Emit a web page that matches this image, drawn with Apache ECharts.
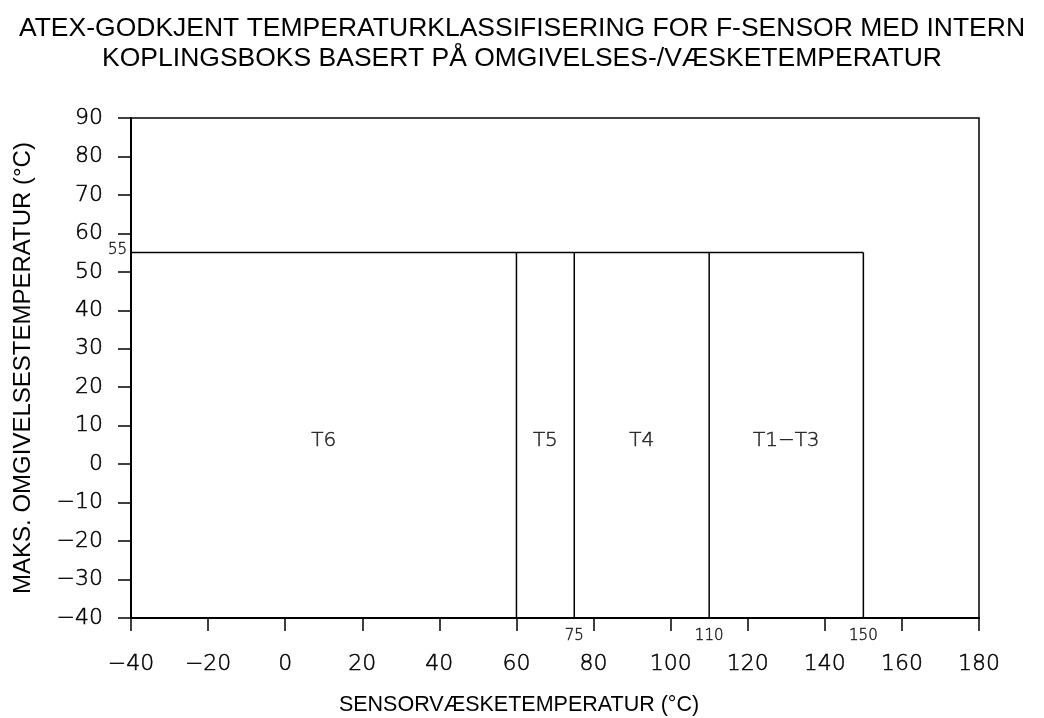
<!DOCTYPE html>
<html><head><meta charset="utf-8">
<script src="https://cdn.jsdelivr.net/npm/echarts@6/dist/echarts.min.js"></script>
<style>html,body{margin:0;padding:0;background:#fff}#c{width:1044px;height:718px}</style>
</head><body><div id="c"></div>
<script>
const titleLines = ['ATEX-GODKJENT TEMPERATURKLASSIFISERING FOR F-SENSOR MED INTERN', 'KOPLINGSBOKS BASERT PÅ OMGIVELSES-/VÆSKETEMPERATUR'];
const xName = 'SENSORVÆSKETEMPERATUR (°C)';
const yName = 'MAKS. OMGIVELSESTEMPERATUR (°C)';
const xRange = [-40, 180];
const yRange = [-40, 90];
const maxAmbient = 55;
const boundaries = [60, 75, 110, 150];
const classNames = ['T6', 'T5', 'T4', 'T1\u2212T3'];
const classLabelY = 6;

const tickFont = 'DejaVu Sans';
const thin = {fontFamily:tickFont, fontWeight:200, color:'#000', textBorderColor:'#000', textBorderWidth:0.5};
const series = [];
series.push({type:'line', data:[[xRange[0], maxAmbient],[boundaries[3], maxAmbient]], symbol:'none', lineStyle:{color:'#000', width:1.5}, animation:false});
boundaries.forEach(b => series.push({type:'line', data:[[b, yRange[0]],[b, maxAmbient]], symbol:'none', lineStyle:{color:'#000', width:1.5}, animation:false}));
const edges = [xRange[0]].concat(boundaries);
series.push({type:'scatter', symbolSize:0, animation:false, silent:true,
  data: classNames.map((n,i)=>({value:[(edges[i]+edges[i+1])/2, classLabelY], name:n})),
  label:Object.assign({show:true, position:'inside', formatter:p=>p.name, fontSize:20}, thin)});
series.push({type:'scatter', symbolSize:0, animation:false, silent:true, clip:false,
  data: boundaries.slice(1).map(b=>({value:[b, yRange[0]], name:String(b)})),
  label:Object.assign({show:true, position:'bottom', distance:11, formatter:p=>p.name, fontSize:15}, thin)});
series.push({type:'scatter', symbolSize:0, animation:false, silent:true, clip:false,
  data: [{value:[xRange[0], maxAmbient], name:String(maxAmbient)}],
  label:Object.assign({show:true, position:'left', distance:4, offset:[0,-3], formatter:p=>p.name, fontSize:15}, thin)});

const fmt = v => String(v).replace('-', '\u2212');
const chart = echarts.init(document.getElementById('c'), null, {renderer:'canvas'});
chart.setOption({
  backgroundColor:'#fff',
  title:{text: titleLines.join('\n'), left:'center', top:9, textStyle:{fontFamily:'Liberation Sans', fontWeight:'normal', fontSize:26.5, lineHeight:30, color:'#000'}},
  grid:{left:131, right:65, top:118, bottom:100, show:true, borderColor:'#000', borderWidth:1.5, outerBoundsMode:'none', containLabel:false},
  xAxis:{type:'value', min:xRange[0], max:xRange[1], interval:20,
    name:xName, nameLocation:'middle', nameGap:76, nameTextStyle:{fontFamily:'Liberation Sans', fontSize:21.5, color:'#000', padding:[0,72,0,0]},
    axisLine:{show:true, onZero:false, lineStyle:{color:'#000', width:2}},
    axisTick:{show:true, inside:false, length:13, lineStyle:{color:'#000', width:1.5}},
    axisLabel:Object.assign({margin:35, fontSize:22, formatter:fmt}, thin),
    splitLine:{show:false}},
  yAxis:{type:'value', min:yRange[0], max:yRange[1], interval:10,
    name:yName, nameLocation:'middle', nameGap:96, nameTextStyle:{fontFamily:'Liberation Sans', fontSize:24, color:'#000'},
    axisLine:{show:true, onZero:false, lineStyle:{color:'#000', width:2}},
    axisTick:{show:true, inside:false, length:13, lineStyle:{color:'#000', width:1.5}},
    axisLabel:Object.assign({margin:28, fontSize:22, formatter:fmt}, thin),
    splitLine:{show:false}},
  series: series
});
</script></body></html>
